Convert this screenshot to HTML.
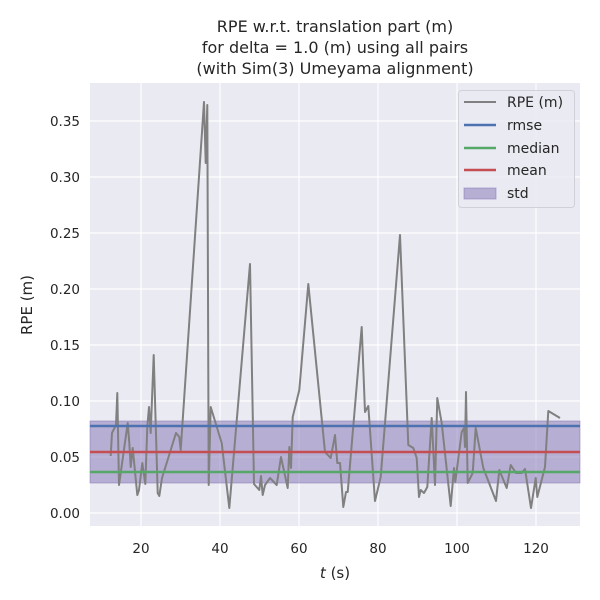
<!DOCTYPE html>
<html><head><meta charset="utf-8"><style>body{margin:0;background:#fff}svg{display:block}text{font-family:"DejaVu Sans","Liberation Sans",sans-serif;fill:#262626}</style></head><body>
<svg width="600" height="600" viewBox="0 0 600 600">
<rect x="90" y="83" width="490" height="443" fill="#eaeaf2"/>
<g stroke="#fff" stroke-width="1.2">
<line x1="141" y1="83" x2="141" y2="526"/><line x1="220" y1="83" x2="220" y2="526"/><line x1="299" y1="83" x2="299" y2="526"/><line x1="378" y1="83" x2="378" y2="526"/><line x1="457" y1="83" x2="457" y2="526"/><line x1="536" y1="83" x2="536" y2="526"/>
<line x1="90" y1="513" x2="580" y2="513"/><line x1="90" y1="457" x2="580" y2="457"/><line x1="90" y1="401" x2="580" y2="401"/><line x1="90" y1="345" x2="580" y2="345"/><line x1="90" y1="289" x2="580" y2="289"/><line x1="90" y1="233" x2="580" y2="233"/><line x1="90" y1="177" x2="580" y2="177"/><line x1="90" y1="121" x2="580" y2="121"/>
</g>
<rect x="90" y="421" width="490" height="62" fill="#8172b3" fill-opacity="0.5" stroke="#8172b3" stroke-opacity="0.5"/>
<polyline fill="none" stroke="#808080" stroke-width="2" stroke-linejoin="round" points="110.7,456 112,433 116,425 117.3,393 119,485 120.7,473 127.7,423 129.3,443 130.7,467 132.7,448 137.3,495 139,490 142.3,463 145.3,484 147.3,427 149,407 150.7,433 153.7,355 157.7,493 159.3,496 162,478 176,433 179.3,437 180.7,450 204,102 205.7,163 207.3,105 208.7,485 210.7,407 221.7,443 229.3,508 250,264 254,484 259.3,490 261,476 262.7,495 265,485 270,478 276.7,485 281,457 287.7,488 289.3,447 291,468 292.7,417 299.3,390 308.3,284 325,452 330.7,458 335,435 337.3,463 340,463 343.3,507 346,492 347.7,492 361.7,327 365,412 368.3,406 375,501 380.7,477 400,235 408.3,445 413.3,448 416.7,458 419,497 420.7,490 424,493 427.3,487 431.7,418 435,485 437.3,398 441.7,423 450.7,506 454,468 455.3,482 461.7,432 464,428 465,447 466,392 467.7,483 472.7,473 475.7,428 483.3,468 496,501 499.3,470 506.7,488 510.7,465 516,473 521.7,473 525,469 526.7,480 531,508 535.7,478 537.3,497 545,467 548.3,411 560,418"/>
<line x1="90" y1="426" x2="580" y2="426" stroke="#4c72b0" stroke-width="2.5"/>
<line x1="90" y1="472" x2="580" y2="472" stroke="#55a868" stroke-width="2.5"/>
<line x1="90" y1="452" x2="580" y2="452" stroke="#c44e52" stroke-width="2.5"/>
<g font-size="13.5" text-anchor="end">
<text x="80" y="518">0.00</text><text x="80" y="462">0.05</text><text x="80" y="406">0.10</text><text x="80" y="350">0.15</text><text x="80" y="294">0.20</text><text x="80" y="238">0.25</text><text x="80" y="182">0.30</text><text x="80" y="126">0.35</text>
</g>
<g font-size="13.5" text-anchor="middle">
<text x="141" y="553">20</text><text x="220" y="553">40</text><text x="299" y="553">60</text><text x="378" y="553">80</text><text x="457" y="553">100</text><text x="536" y="553">120</text>
<text x="335" y="578" font-size="15"><tspan font-style="italic">t</tspan> (s)</text>
<text x="32" y="305" font-size="15" transform="rotate(-90 32 305)">RPE (m)</text>
<text x="335" y="32" font-size="16">RPE w.r.t. translation part (m)</text>
<text x="335" y="53" font-size="16">for delta = 1.0 (m) using all pairs</text>
<text x="335" y="74" font-size="16">(with Sim(3) Umeyama alignment)</text>
</g>
<rect x="458.5" y="90.5" width="116" height="117" rx="3" fill="#eaeaf2" fill-opacity="0.8" stroke="#d0d0d8"/>
<g stroke-width="2.5"><line x1="464" y1="102" x2="496" y2="102" stroke="#808080" stroke-width="2"/><line x1="464" y1="125" x2="496" y2="125" stroke="#4c72b0"/><line x1="464" y1="148" x2="496" y2="148" stroke="#55a868"/><line x1="464" y1="170" x2="496" y2="170" stroke="#c44e52"/></g>
<rect x="464" y="188" width="32" height="11" fill="#8172b3" fill-opacity="0.5" stroke="#8172b3" stroke-opacity="0.5"/>
<g font-size="14"><text x="507" y="107">RPE (m)</text><text x="507" y="130">rmse</text><text x="507" y="153">median</text><text x="507" y="175">mean</text><text x="507" y="198">std</text></g>
</svg>
</body></html>
